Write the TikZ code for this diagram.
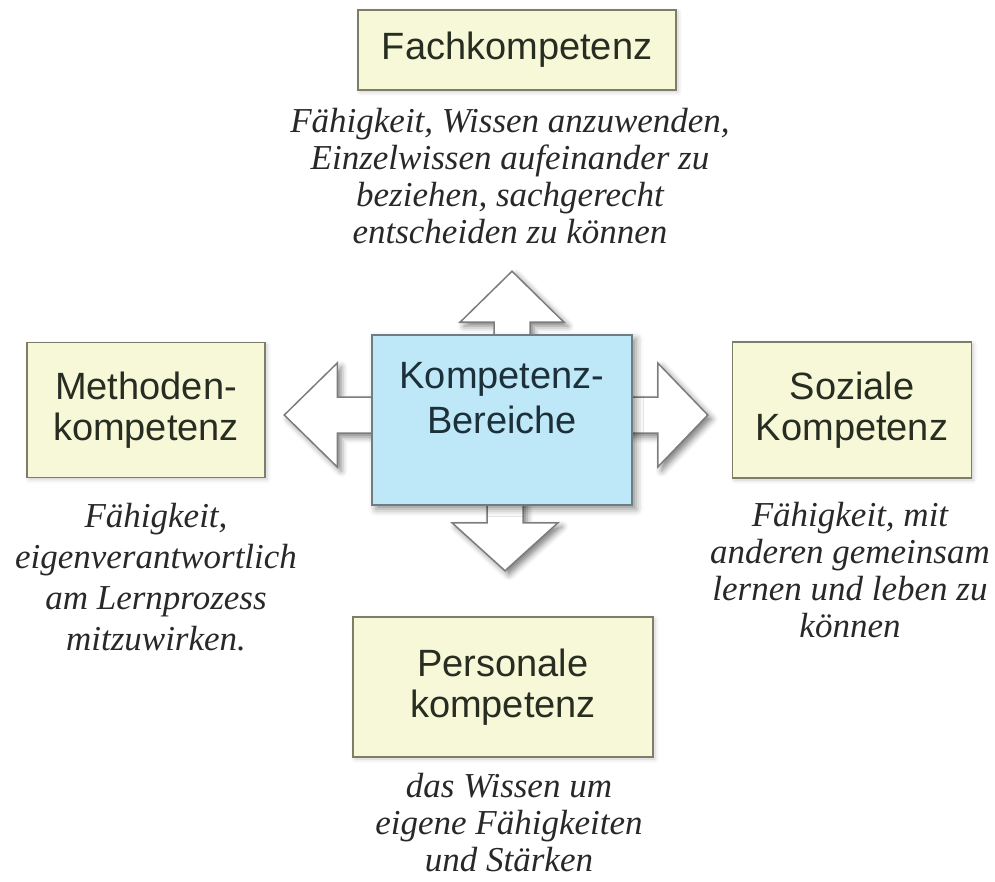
\documentclass[tikz,border=0pt]{standalone}
\usepackage{fontspec}
\setmainfont{Liberation Serif}
\setsansfont{Liberation Sans}
\usetikzlibrary{positioning, shadows.blur, backgrounds}

\definecolor{boxfill}{RGB}{246,248,216}
\definecolor{boxline}{RGB}{125,125,105}
\definecolor{kbfill}{RGB}{190,231,247}
\definecolor{kbline}{RGB}{110,125,132}
\definecolor{arrline}{RGB}{125,125,125}
\definecolor{labeltext}{RGB}{40,45,33}
\definecolor{kbtext}{RGB}{28,48,58}
\definecolor{desctext}{RGB}{40,40,40}

\begin{document}
\begin{tikzpicture} [x = 1pt, y = -1pt,
    kompbox/.style = {draw=boxline, line width=1.8pt, fill=boxfill, text=labeltext,
        font=\sffamily\fontsize{38}{41}\selectfont, align=center, inner sep=0pt,
        blur shadow={shadow xshift=2pt, shadow yshift=-2pt, shadow blur radius=4pt, shadow opacity=20}},
    kbbox/.style = {draw=kbline, line width=1.5pt, fill=kbfill, text=kbtext,
        font=\sffamily\fontsize{38}{45}\selectfont, align=center, inner sep=0pt,
        minimum width=260pt, minimum height=170pt,
        blur shadow={shadow xshift=4pt, shadow yshift=-4pt, shadow blur radius=7pt, shadow opacity=45}},
    desc/.style = {text=desctext, font=\itshape\fontsize{35}{37}\selectfont, align=center,
        inner sep=0pt, anchor=north},
    blockarrow/.style = {draw=arrline, line width=1.5pt, fill=white, line join=miter,
        blur shadow={shadow xshift=4pt, shadow yshift=-4pt, shadow blur radius=6pt, shadow opacity=50}}]

    \useasboundingbox (0,0) rectangle (995,882);

    \node (kb) [kbbox] at (502,420) {Kompetenz-\\Bereiche\\\mbox{}};

    \node (fach) [kompbox, minimum width=318pt, minimum height=80pt] at (517,50) {Fachkompetenz};
    \node (methoden) [kompbox, minimum width=238pt, minimum height=135pt] at (146,410) {Methoden-\\kompetenz};
    \node (soziale) [kompbox, minimum width=239pt, minimum height=136pt] at (852,410) {Soziale\\Kompetenz};
    \node (personale) [kompbox, minimum width=300pt, minimum height=140pt] at (503,687) {Personale\\kompetenz};

    \node (fachtext) [desc] at (510,108) {F\"ahigkeit, Wissen anzuwenden,\\Einzelwissen aufeinander zu\\beziehen, sachgerecht\\entscheiden zu k\"onnen};
    \node (methodentext) [desc, font=\itshape\fontsize{35}{41}\selectfont] at (156,503) {F\"ahigkeit,\\eigenverantwortlich\\am Lernprozess\\mitzuwirken.};
    \node (sozialtext) [desc] at (850,502) {F\"ahigkeit, mit\\anderen gemeinsam\\lernen und leben zu\\k\"onnen};
    \node (personaltext) [desc] at (509,773) {das Wissen um\\eigene F\"ahigkeiten\\und St\"arken};

    % block arrows out of the centre box
    \begin{scope}[on background layer]
    \draw [blockarrow, shift={(kb.north)}] (-8,4) -- (-8,-12) -- (-42,-12) -- (10,-63) -- (62,-12) -- (28,-12) -- (28,4);
    \draw [blockarrow, shift={(kb.west)}] (4,-23) -- (-34,-23) -- (-34,-57) -- (-87,-5) -- (-34,47) -- (-34,13) -- (4,13);
    \draw [blockarrow, shift={(kb.east)}] (-4,-23) -- (25,-23) -- (25,-57) -- (75,-5) -- (25,47) -- (25,13) -- (-4,13);
    \draw [blockarrow, shift={(kb.south)}] (-15,-4) -- (-15,17) -- (-50,17) -- (3,65) -- (56,17) -- (21,17) -- (21,-4);
    \end{scope}

\end{tikzpicture}
\end{document}
